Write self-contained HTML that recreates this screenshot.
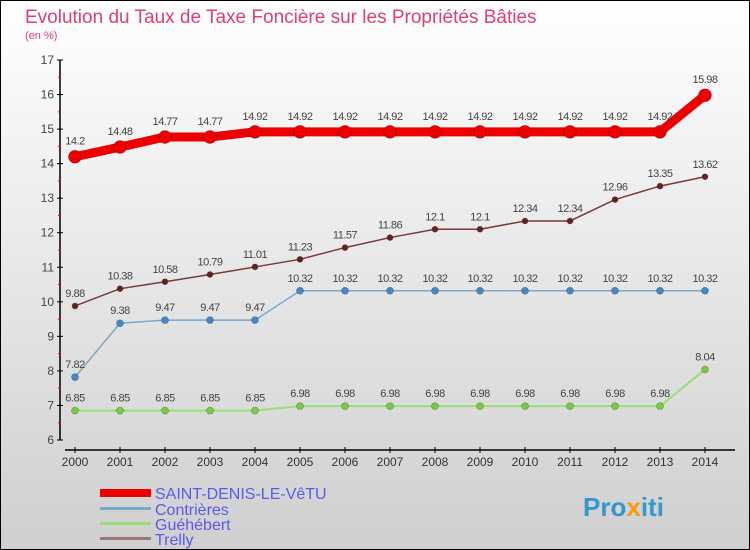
<!DOCTYPE html>
<html><head><meta charset="utf-8"><style>
body{margin:0}
svg{display:block;font-family:"Liberation Sans",sans-serif}
</style></head><body>
<svg id="c" width="750" height="550">
<defs><linearGradient id="bg" x1="0" y1="0" x2="0" y2="1"><stop offset="0" stop-color="#ffffff"/><stop offset="1" stop-color="#cfcfcf"/></linearGradient></defs>
<rect x="0.5" y="0.5" width="749" height="549" fill="url(#bg)" stroke="#000"/>
<text x="25" y="23" font-size="19" fill="#e0406a">Evolution du Taux de Taxe Foncière sur les Propriétés Bâties</text>
<text x="25" y="39" font-size="11" fill="#e0406a">(en %)</text>
<g id="axes"></g><g id="series"></g>
<g>
<rect x="100" y="489" width="51" height="8" fill="#ee0000"/>
<text x="155" y="499" font-size="16" fill="#5a5aee">SAINT-DENIS-LE-VêTU</text>
<rect x="100" y="507" width="51" height="3" fill="#7aa8c8"/>
<text x="155" y="515" font-size="16" fill="#5a5aee">Contrières</text>
<rect x="100" y="522" width="51" height="3" fill="#99dd77"/>
<text x="155" y="530" font-size="16" fill="#5a5aee">Guéhébert</text>
<rect x="100" y="537" width="51" height="3" fill="#997777"/>
<text x="155" y="545" font-size="16" fill="#5a5aee">Trelly</text>
</g>
<text x="583" y="516" font-size="26" font-weight="bold" fill="#3399cc">Pro<tspan fill="#ff9900">x</tspan>iti</text>
</svg>
<script>
const years=[2000,2001,2002,2003,2004,2005,2006,2007,2008,2009,2010,2011,2012,2013,2014];
const yTicks=[6,7,8,9,10,11,12,13,14,15,16,17];
const saintDenis=[14.2,14.48,14.77,14.77,14.92,14.92,14.92,14.92,14.92,14.92,14.92,14.92,14.92,14.92,15.98];
const contrieres=[7.82,9.38,9.47,9.47,9.47,10.32,10.32,10.32,10.32,10.32,10.32,10.32,10.32,10.32,10.32];
const guehebert=[6.85,6.85,6.85,6.85,6.85,6.98,6.98,6.98,6.98,6.98,6.98,6.98,6.98,6.98,8.04];
const trelly=[9.88,10.38,10.58,10.79,11.01,11.23,11.57,11.86,12.1,12.1,12.34,12.34,12.96,13.35,13.62];
const NS='http://www.w3.org/2000/svg';
const xS=i=>75+i*45;
const yS=v=>440-(v-6)*(380/11);
function mk(t,a,p){const e=document.createElementNS(NS,t);for(const k in a)e.setAttribute(k,a[k]);p.appendChild(e);return e;}
const ax=document.getElementById('axes');
let l=mk('line',{x1:60,y1:60,x2:60,y2:440,stroke:'#000','stroke-width':1.5},ax);


l=mk('line',{x1:65,y1:450,x2:735,y2:450,stroke:'#000','stroke-width':1.5},ax);


yTicks.forEach(v=>{
 mk('line',{x1:57,y1:yS(v),x2:63,y2:yS(v),stroke:'#000'},ax);
 if(v<17)mk('line',{x1:58,y1:yS(v+0.5),x2:61,y2:yS(v+0.5),stroke:'#e00'},ax);
 const t=mk('text',{x:54,y:yS(v)+4,'font-size':12,fill:'#444','text-anchor':'end'},ax);
 t.textContent=v;
 
 
});
years.forEach((y,i)=>{
 mk('line',{x1:xS(i),y1:447,x2:xS(i),y2:453,stroke:'#000'},ax);
 const t=mk('text',{x:xS(i),y:466,'font-size':12,fill:'#333','text-anchor':'middle'},ax);
 t.textContent=y;
 
 
});
const sg=document.getElementById('series');
function draw(vals,name,color,w,r,dot,labCol){
 const g=mk('g',{},sg);
 
 
 const p=mk('polyline',{points:vals.map((v,i)=>xS(i)+','+yS(v)).join(' '),fill:'none',stroke:color,'stroke-width':w},g);
 
 
 vals.forEach((v,i)=>{
  const c=mk('circle',{cx:xS(i),cy:yS(v),r:r,fill:dot,stroke:'rgba(0,0,0,0.25)','stroke-width':0.8},g);
  
  
  const t=mk('text',{x:xS(i),y:yS(v)-9-(r>4?3:0),'font-size':11,fill:'#444','text-anchor':'middle','letter-spacing':'-0.5'},g);
  t.textContent=v;
  
  
 });
}
draw(guehebert,'guehebert','#99dd77',2,3.5,'#77cc44');
draw(contrieres,'contrieres','#7aa8c8',1.5,3.5,'#4488cc');
draw(trelly,'trelly','#7a3a3a',1.5,3,'#662222');
draw(saintDenis,'saint-denis','#ee0000',9,6.5,'#ee0000');
</script>
</body></html>
